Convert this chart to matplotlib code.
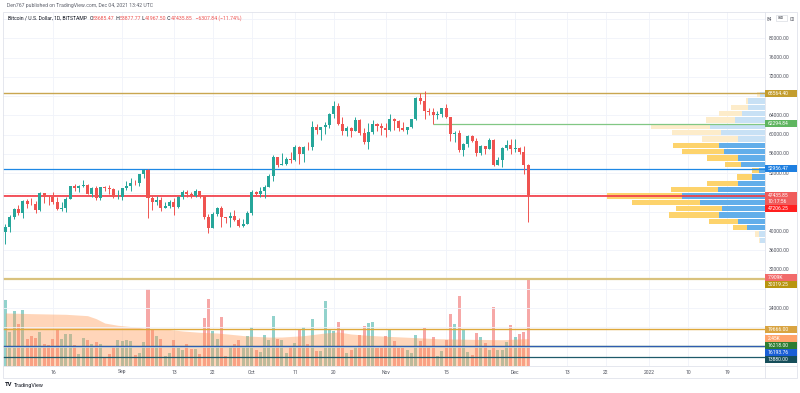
import numpy as np
import pandas as pd
import matplotlib
matplotlib.use("Agg")
import matplotlib.pyplot as plt
import matplotlib.dates as mdates
import matplotlib.transforms as mtransforms
from matplotlib.patches import Rectangle

plt.rcParams["font.family"] = ["Roboto", "DejaVu Sans"]

W, H = 800, 393

# ---- daily BTC/USD (Bitstamp), 5 Aug 2021 .. 4 Dec 2021 ----
first_day = "2021-08-05"
opens = [39720, 40870, 42830, 44620, 43830, 46290, 45600, 45550, 44430, 47830,
         47100, 47050, 45990, 44680, 44730, 46760, 49330, 48880, 49300, 49550,
         47710, 48990, 46850, 49080, 48900, 48810, 46990, 47150, 48840, 49290,
         50030, 49940, 51780, 52660, 46870, 46080, 46400, 44850, 45160, 46060,
         44960, 47100, 48150, 47780, 47300, 48310, 47270, 43010, 40700, 43560,
         44880, 42830, 42700, 43200, 42230, 41030, 41520, 43790, 48140, 47660,
         48230, 49250, 51490, 55340, 53800, 53970, 54960, 54680, 57480, 56010,
         57370, 57350, 61670, 60880, 61530, 62010, 64280, 66000, 62210, 60690,
         61300, 60850, 63080, 60330, 58450, 60600, 62250, 61880, 61340, 61010,
         63230, 62940, 61440, 61000, 61530, 63280, 67530, 66940, 64880, 64810,
         64150, 64390, 65450, 63570, 60110, 60370, 56900, 58110, 59720, 58710,
         56300, 57560, 57130, 58980, 53740, 54760, 57290, 57830, 56990, 57230,
         56510, 53685.47]
highs = [41400, 43400, 44700, 45350, 46460, 46700, 46800, 46200, 48100, 47950,
         47400, 48050, 47150, 46000, 47000, 49380, 49800, 49500, 50500, 49850,
         49250, 49350, 49180, 49300, 49650, 48900, 48500, 49000, 50400, 51050,
         50550, 51900, 52800, 52900, 47350, 47380, 47100, 45950, 46450, 46850,
         47250, 48450, 48500, 48150, 48800, 48350, 47350, 43600, 44000, 44950,
         45150, 42950, 43900, 44350, 42800, 42600, 44100, 48450, 48350, 49200,
         49500, 51900, 55750, 55300, 56100, 55450, 56500, 57800, 57650, 57700,
         58500, 62900, 62300, 61700, 62650, 64450, 67000, 66650, 63700, 61750,
         61500, 63700, 63300, 61450, 62450, 62950, 62350, 62400, 62450, 64300,
         63500, 63150, 62600, 61600, 63300, 67800, 68550, 69000, 65600, 65450,
         64950, 65550, 66300, 63550, 60800, 60950, 58350, 59850, 60000, 59300,
         57850, 57750, 59400, 59200, 55300, 57420, 58900, 59200, 59100, 57400,
         57600, 53877.77]
lows = [37400, 39900, 42450, 43300, 42800, 44700, 45400, 43800, 44250, 45800,
        45500, 45650, 44400, 44250, 43950, 46670, 48300, 48150, 49050, 47600,
        47150, 46350, 46400, 48400, 47800, 46900, 46700, 46550, 48600, 48400,
        49500, 49450, 50950, 42800, 44400, 45500, 44150, 44750, 44750, 43400,
        44700, 46750, 47050, 46800, 47050, 46850, 42550, 39600, 40550, 43100,
        40800, 41700, 40900, 42100, 40950, 40800, 41450, 43300, 47450, 47100,
        46950, 49050, 50400, 53400, 53650, 53700, 54100, 54450, 53900, 54250,
        56850, 56850, 60200, 58950, 60100, 61400, 63500, 62050, 60000, 59650,
        59500, 60700, 59850, 58100, 57000, 60200, 60750, 60000, 59500, 60700,
        60950, 60700, 60750, 60150, 61350, 63150, 66300, 63300, 64100, 62295,
        63350, 63600, 63450, 58600, 58400, 56500, 55650, 57450, 58500, 55650,
        55850, 55900, 57050, 53600, 53700, 53400, 56800, 55900, 56500, 55900,
        51750, 41967.50]
closes = [40870, 42830, 44620, 43830, 46290, 45600, 45550, 44430, 47830, 47100,
          47050, 45990, 44680, 44730, 46760, 49330, 48880, 49300, 49550, 47710,
          48990, 46850, 49080, 48900, 48810, 46990, 47150, 48840, 49290, 50030,
          49940, 51780, 52660, 46870, 46080, 46400, 44850, 45160, 46060, 44960,
          47100, 48150, 47780, 47300, 48310, 47270, 43010, 40700, 43560, 44880,
          42830, 42700, 43200, 42230, 41030, 41520, 43790, 48140, 47660, 48230,
          49250, 51490, 55340, 53800, 53970, 54960, 54680, 57480, 56010, 57370,
          57350, 61670, 60880, 61530, 62010, 64280, 66000, 62210, 60690, 61300,
          60850, 63080, 60330, 58450, 60600, 62250, 61880, 61340, 61010, 63230,
          62940, 61440, 61000, 61530, 63280, 67530, 66940, 64880, 64810, 64150,
          64390, 65450, 63570, 60110, 60370, 56900, 58110, 59720, 58710, 56300,
          57560, 57130, 58980, 53740, 54760, 57290, 57830, 56990, 57230, 56510,
          53743.69, 47435.85]
# daily volume, thousand BTC
volumes = [5.87, 3.04, 4.92, 3.73, 4.98, 2.41, 2.66, 2.50, 3.01, 1.94,
           1.85, 2.44, 3.31, 2.39, 2.83, 2.86, 1.85, 1.05, 2.48, 2.30,
           1.94, 2.17, 1.99, 0.74, 1.10, 1.70, 2.30, 2.21, 2.30, 2.24,
           0.96, 1.14, 2.12, 6.86, 3.31, 2.71, 2.41, 0.87, 1.19, 2.35,
           1.64, 1.40, 1.94, 1.55, 1.49, 1.05, 4.26, 6.02, 3.10, 2.41,
           4.41, 0.92, 1.70, 1.99, 2.30, 1.79, 2.66, 3.49, 1.40, 1.25,
           2.80, 2.30, 4.47, 2.44, 2.30, 1.16, 1.76, 2.06, 3.33, 3.46,
           1.94, 4.23, 1.31, 1.31, 5.78, 3.25, 3.13, 3.93, 3.19, 1.16,
           1.40, 1.81, 2.74, 3.55, 3.84, 3.93, 1.64, 1.61, 2.68, 3.31,
           2.24, 1.61, 1.64, 1.40, 1.19, 2.80, 2.21, 3.42, 1.70, 2.59,
           0.87, 1.34, 2.35, 4.68, 3.78, 6.23, 3.25, 1.22, 0.96, 2.98,
           2.59, 2.08, 1.40, 5.27, 1.40, 1.46, 2.15, 3.64, 2.59, 2.86,
           3.04, 7.909]
# volume moving average, read at a few days (offset from first_day)
vol_ma_days = [0, 6, 14, 19, 21, 23, 26, 30, 33, 37, 41, 45, 49, 53, 56, 61, 64,
               69, 74, 77, 80, 84, 88, 92, 100, 107, 115, 121]
vol_ma = [4.74, 4.68, 4.62, 4.50, 4.23, 3.84, 3.64, 3.49, 3.33, 3.31, 3.13, 3.01,
          2.95, 2.80, 2.68, 2.59, 2.59, 2.71, 2.95, 3.04, 2.86, 2.74, 2.66, 2.59,
          2.44, 2.39, 2.35, 2.45]

# visible range volume profile, rows from lowest price to highest
profile_up = [5, 5.7, 17.7, 26.7, 46, 43.3, 65, 82.7, 46.7, 27.3, 12.7, 6.3,
              24, 27.3, 41, 45.7, 27.3, 44, 55, 30, 23.3, 16.7, 16.7, 5]
profile_down = [0.7, 4.3, 14, 29, 50, 45.7, 68, 75.3, 47.3, 30.4, 15.6, 7,
                15.7, 31, 42, 46, 35.7, 49, 59.3, 29, 22.4, 17.3, 2.3, 3.3]
value_area_rows = (2, 15)
poc_price = 47206.25

# drawn horizontal levels
levels = [68564.40, 52956.47, 30019.25, 19666.00, 16218.00, 16193.76, 13880.00]
level_colors = ["#c9a650", "#1e88e5", "#d9c27e", "#dea83a", "#2e7d32", "#2f5cb0", "#1e5a6a"]
level_widths = [1.0, 0.9, 1.6, 1.0, 0.9, 0.9, 0.9]
ray_price, ray_start = 62294.84, "2021-11-12"

tick_dates = ["2021-08-16", "2021-09-01", "2021-09-13", "2021-09-22", "2021-10-01",
              "2021-10-11", "2021-10-20", "2021-11-01", "2021-11-15", "2021-12-01",
              "2021-12-13", "2021-12-22", "2022-01-01", "2022-01-10", "2022-01-19"]

UP, DOWN = "#26a69a", "#ef5350"
TXT = "#131722"
AXIS_TXT = "#50535e"

dates = pd.date_range(first_day, periods=len(closes), freq="D")
x = mdates.date2num(dates)
o, h, l, c = map(np.array, (opens, highs, lows, closes))
rising = c >= o

fig = plt.figure(figsize=(W / 100, H / 100), dpi=100)
fig.patch.set_facecolor("white")


def px_box(left, top, right, bottom):
    return [left / W, 1 - bottom / H, (right - left) / W, (bottom - top) / H]


def put_text(px, py, s, **kw):
    return fig.text(px / W, 1 - py / H, s, **kw)


pane = px_box(3, 12, 765, 366)
ax = fig.add_axes(pane)
axv = fig.add_axes(pane, sharex=ax)
axv.set_zorder(ax.get_zorder() - 1)
ax.patch.set_visible(False)

x0 = x[0]
ax.set_xlim(x0 - 0.56, x0 + 175.8)
ax.set_ylim(12012, 85456)
axv.set_ylim(0, 31.64)

for a in (ax, axv):
    a.set_xticks([])
    a.set_yticks([])
    for s in a.spines.values():
        s.set_visible(False)

# grid
tick_x = mdates.date2num(pd.to_datetime(tick_dates))
grid_prices = np.arange(16000, 84001, 4000)
for tx in tick_x:
    axv.axvline(tx, color="#f0f3fa", lw=0.6, zorder=0)
for gp in grid_prices:
    ax.axhline(gp, color="#f0f3fa", lw=0.6, zorder=0)

# volume + MA
vol_colors = np.where(rising, UP, DOWN)
axv.bar(x, volumes, width=0.7, color=vol_colors, alpha=0.5, lw=0, zorder=2)
axv.fill_between(x0 + np.array(vol_ma_days), 0, vol_ma, color="#ff9850",
                 alpha=0.4, lw=0, zorder=3)

# volume profile (visible range)
edges = np.linspace(l.min(), h.max(), len(profile_up) + 1)
row_h = edges[1] - edges[0]
totals = np.array(profile_up) + np.array(profile_down)
scale = (158 / 762) / totals.max()
blend = mtransforms.blended_transform_factory(ax.transAxes, ax.transData)
for i, (up, dn) in enumerate(zip(profile_up, profile_down)):
    in_va = value_area_rows[0] <= i <= value_area_rows[1]
    cu = "#62aeea" if in_va else "#c8e1f5"
    cd = "#fdd36c" if in_va else "#fdecca"
    wu, wd = up * scale, dn * scale
    y0 = edges[i] + row_h * 0.08
    ax.add_patch(Rectangle((1 - wu, y0), wu, row_h * 0.84, transform=blend,
                           facecolor=cu, lw=0, zorder=1))
    ax.add_patch(Rectangle((1 - wu - wd, y0), wd, row_h * 0.84, transform=blend,
                           facecolor=cd, lw=0, zorder=1))

# horizontal levels
for lv, lc, lw in zip(levels, level_colors, level_widths):
    ax.axhline(lv, color=lc, lw=lw, zorder=4)
ax.hlines(ray_price, mdates.date2num(pd.Timestamp(ray_start)), x0 + 176,
          color="#81c784", lw=0.9, zorder=4)
ax.axhline(poc_price, color="#f23645", lw=1.2, zorder=4)
ax.axhline(c[-1], color=DOWN, lw=0.6, ls=(0, (1, 1)), zorder=4)

# candles
candle_colors = np.where(rising, UP, DOWN)
ax.vlines(x, l, h, colors=candle_colors, lw=0.7, zorder=5)
body = np.maximum(np.abs(c - o), 120)
ax.bar(x, body, bottom=np.minimum(o, c), width=0.7, color=candle_colors,
       lw=0, zorder=6)

# frame lines
frame = "#e0e3eb"
fig.add_artist(Rectangle((3 / W, 1 - 378 / H), 794 / W, 366 / H,
                         transform=fig.transFigure, fill=False, ec=frame, lw=0.6))
fig.add_artist(plt.Line2D([765 / W, 765 / W], [1 - 12 / H, 1 - 378 / H],
                          transform=fig.transFigure, color=frame, lw=0.6))
fig.add_artist(plt.Line2D([3 / W, 797 / W], [1 - 366 / H, 1 - 366 / H],
                          transform=fig.transFigure, color=frame, lw=0.6))

# price scale: coloured tags first (stacked so they do not collide)
fig.canvas.draw()
to_px = lambda a, xv, yv: H - a.transData.transform((xv, yv))[1]

pct = (c[-1] - c[-2]) / c[-2] * 100
tags = [
    (to_px(ax, x0, 68564.40), ["68564.40"], "#c39d2e", 7),
    (to_px(ax, x0, ray_price), [f"{ray_price:.2f}"], "#5fb560", 7),
    (to_px(ax, x0, 52956.47), ["52956.47"], "#1e7fe0", 7),
    (to_px(ax, x0, c[-1]), [f"{c[-1]:.2f}", "10:17:56"], "#f05b5b", 13),
    (to_px(ax, x0, poc_price), [f"{poc_price:.2f}"], "#ff1f1f", 7),
    (to_px(axv, x0, volumes[-1]), [f"{volumes[-1]:.3f}K"], "#f26b6b", 7),
    (to_px(ax, x0, 30019.25), ["30019.25"], "#b8950f", 7),
    (to_px(ax, x0, 19666.00), ["19666.00"], "#d9a441", 7),
    (to_px(axv, x0, vol_ma[-1]), [f"{vol_ma[-1]:.2f}K"], "#ffa36b", 7),
    (to_px(ax, x0, 16218.00), ["16218.00"], "#2e7d32", 7),
    (to_px(ax, x0, 16193.76), ["16193.76"], "#1a5fd6", 7),
    (to_px(ax, x0, 13880.00), ["13880.00"], "#164e5a", 7),
]
tags.sort(key=lambda t: t[0])
occupied = []
prev_bottom = -1e9
for yc, lines, bg, th in tags:
    top = max(yc - 3.5, prev_bottom)
    prev_bottom = top + th
    occupied.append((top, top + th))
    fig.add_artist(Rectangle((765 / W, 1 - (top + th) / H), 32 / W, th / H,
                             transform=fig.transFigure, fc=bg, lw=0, zorder=6))
    for k, s in enumerate(lines):
        put_text(768, top + 3.5 + 6 * k, s, fontsize=3.6, color="white",
                 va="center", zorder=7)

# plain tick labels, hidden where a tag covers them
for gp in grid_prices[:-1]:
    yp = to_px(ax, x0, gp)
    cover = max([min(b, yp + 2.5) - max(t, yp - 2.5) for t, b in occupied] + [0])
    if cover > 1.5:
        continue
    put_text(769, yp, f"{gp:.2f}", fontsize=3.6, color=AXIS_TXT, va="center", zorder=3)
# top label partly hidden behind the currency badge
y84 = to_px(ax, x0, grid_prices[-1])
put_text(767, y84, "84", fontsize=3.4, color=AXIS_TXT, va="center", zorder=3)
put_text(789.5, y84, "00", fontsize=3.4, color=AXIS_TXT, va="center", zorder=3)
fig.add_artist(Rectangle((775.5 / W, 1 - 21 / H), 11 / W, 6 / H, transform=fig.transFigure,
                         fc="white", ec="#d1d4dc", lw=0.4, zorder=4))
put_text(781, 18, "USD", fontsize=2.3, color=TXT, ha="center", va="center", zorder=5)

# time scale
for d, tx in zip(pd.to_datetime(tick_dates), tick_x):
    if d.day == 1:
        lab = str(d.year) if d.month == 1 else d.strftime("%b")
    else:
        lab = str(d.day)
    xp = ax.transData.transform((tx, 0))[0]
    put_text(xp, 372, lab, fontsize=3.6, color=AXIS_TXT, ha="center", va="center")

# header, legend, logo
put_text(7, 6, "Den767 published on TradingView.com, Dec 04, 2021 13:42 UTC",
         fontsize=3.7, color="#5d606b", va="center")
renderer = fig.canvas.get_renderer()
pieces = [("Bitcoin / U.S. Dollar, 1D, BITSTAMP  ", TXT),
          ("O", TXT), (f"{o[-1]:.2f}", DOWN), (" H", TXT), (f"{h[-1]:.2f}", DOWN),
          (" L", TXT), (f"{l[-1]:.2f}", DOWN), (" C", TXT), (f"{c[-1]:.2f}", DOWN),
          (f"  \u2212{abs(c[-1] - c[-2]):.2f} (\u2212{abs(pct):.2f}%)", DOWN)]
xpos = 8
for s, col in pieces:
    t = put_text(xpos, 18, s, fontsize=3.7, color=col, va="center")
    xpos += t.get_window_extent(renderer).width

put_text(4.5, 385, "TV", fontsize=4.2, color=TXT, va="center", weight="bold")
put_text(14, 385, "TradingView", fontsize=3.9, color=TXT, va="center")

fig.savefig("out.png", dpi=100)
